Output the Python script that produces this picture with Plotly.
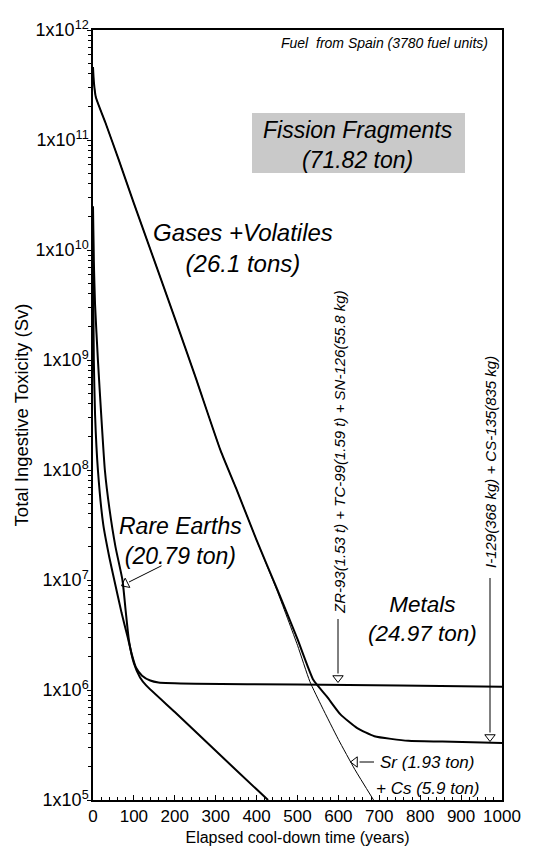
import plotly.graph_objects as go

# ---------------- data ----------------
years_gases = [0, 2, 7, 30, 63, 100, 150, 200, 250, 312, 350, 400, 450, 500, 539, 572, 605, 646, 688, 771, 854, 1000]
tox_gases = [4.6e11, 3.4e11, 2.45e11, 1.45e11, 6.6e10, 2.65e10, 8.0e9, 2.4e9, 7.1e8, 1.5e8, 6.8e7, 2.3e7,
             8.3e6, 2.9e6, 1.23e6, 8.7e5, 6.0e5, 4.5e5, 3.8e5, 3.45e5, 3.4e5, 3.3e5]

years_srcs = [0, 2, 7, 30, 63, 100, 150, 200, 250, 312, 350, 400, 450, 500, 530, 560, 600, 640, 686]
tox_srcs = [4.6e11, 3.4e11, 2.45e11, 1.45e11, 6.6e10, 2.65e10, 8.0e9, 2.4e9, 7.1e8, 1.5e8, 6.8e7, 2.3e7,
            8.0e6, 2.55e6, 1.2e6, 7.0e5, 3.55e5, 1.9e5, 1.0e5]

years_metals = [0, 1, 2, 5, 12, 25, 40, 52, 70, 85, 95, 105, 120, 140, 160, 250, 500, 750, 1000]
tox_metals = [1.6e10, 3.2e9, 1.0e9, 3.2e8, 1.0e8, 3.2e7, 1.6e7, 1.0e7, 5.0e6, 3.0e6, 2.1e6, 1.6e6,
              1.35e6, 1.22e6, 1.17e6, 1.14e6, 1.12e6, 1.1e6, 1.07e6]

years_rare = [0, 2, 5, 12, 20, 29, 40, 55, 72, 80, 88, 100, 115, 130, 200, 300, 400, 428]
tox_rare = [2.5e10, 8e9, 3.2e9, 1.0e9, 3.2e8, 1.0e8, 4.5e7, 2.0e7, 1.0e7, 5.2e6, 2.8e6, 1.75e6,
            1.3e6, 1.1e6, 6.3e5, 2.8e5, 1.25e5, 1.0e5]

y_tick_exponents = [5, 6, 7, 8, 9, 10, 11, 12]
x_tick_values = [0, 100, 200, 300, 400, 500, 600, 700, 800, 900, 1000]

# ---------------- layout helpers (page-pixel geometry of the frame) ----------------
PAGE_OFFSET = 8          # default body margin of the html page
W, H = 517, 838          # figure size (fits the 533x854 window with the body margin)
X0, X1 = 93, 502         # frame, in page pixels
Y0, Y1 = 30, 800


def px_x(px):
    return (px - X0) / (X1 - X0) * 1000


def px_ylog(py):
    return 12 - (py - Y0) / (Y1 - Y0) * 7


def pap_x(px):
    return (px - X0) / (X1 - X0)


def pap_y(py):
    return (Y1 - py) / (Y1 - Y0)


FONT = "Liberation Sans, Arial, Helvetica, sans-serif"

fig = go.Figure()

line_spec = dict(color="black", shape="spline", smoothing=0.5)
fig.add_trace(go.Scatter(x=years_srcs, y=tox_srcs, mode="lines", line=dict(width=1, **line_spec)))
fig.add_trace(go.Scatter(x=years_gases, y=tox_gases, mode="lines", line=dict(width=2, **line_spec)))
fig.add_trace(go.Scatter(x=years_metals, y=tox_metals, mode="lines", line=dict(width=2, **line_spec)))
fig.add_trace(go.Scatter(x=years_rare, y=tox_rare, mode="lines", line=dict(width=2, **line_spec)))

# open-triangle arrow heads (annotation decorations)
heads = [
    # (center px x, center px y, symbol, angle)
    (338, 678, "triangle-down-open", 0),
    (490, 737, "triangle-down-open", 0),
    (355, 762, "triangle-left-open", 0),
    (125.5, 583.8, "triangle-left-open", -26.6),
]
fig.add_trace(go.Scatter(
    x=[px_x(h[0]) for h in heads],
    y=[10 ** px_ylog(h[1]) for h in heads],
    mode="markers",
    marker=dict(symbol=[h[2] for h in heads], angle=[h[3] for h in heads], size=9,
                color="black", line=dict(width=1, color="black")),
    cliponaxis=False,
))

annotations = []


def text(px, py, s, size, angle=0):
    annotations.append(dict(
        x=pap_x(px), y=pap_y(py), xref="paper", yref="paper", text=s, showarrow=False,
        xanchor="center", yanchor="middle", textangle=angle,
        font=dict(family=FONT, size=size, color="black"),
    ))


def arrow(px, py, ax, ay):
    annotations.append(dict(
        x=px_x(px), y=px_ylog(py), xref="x", yref="y", ax=ax, ay=ay, text="",
        showarrow=True, arrowhead=0, arrowwidth=1, arrowcolor="black", standoff=0, startstandoff=0,
    ))


text(384, 43, "<i>Fuel  from Spain (3780 fuel units)</i>", 14)
text(358, 145, "<i>Fission Fragments<br>(71.82 ton)</i>", 23)
text(243, 248, "<i>Gases +Volatiles<br>(26.1 tons)</i>", 24)
text(180, 541, "<i>Rare Earths<br>(20.79 ton)</i>", 23)
text(422, 619, "<i>Metals<br>(24.97 ton)</i>", 22.5)
text(339, 452, "<i>ZR-93(1.53 t) + TC-99(1.59 t) + SN-126(55.8 kg)</i>", 15, -90)
text(490, 462, "<i>I-129(368 kg) + CS-135(835 kg)</i>", 15, -90)
text(427, 762, "<i>Sr (1.93 ton)</i>", 17)
text(427, 788, "<i>+ Cs (5.9 ton)</i>", 17)

arrow(338, 673.5, 0, -56)
arrow(490, 732.5, 0, -156)
arrow(359.5, 762, 16, 0)
arrow(129, 582, 34, -17)

fig.add_shape(type="rect", xref="paper", yref="paper",
              x0=pap_x(252), x1=pap_x(465), y0=pap_y(173), y1=pap_y(113),
              fillcolor="#c9c9c9", line=dict(width=0), layer="below")

fig.update_layout(
    width=W, height=H,
    margin=dict(l=X0 - PAGE_OFFSET, r=W + PAGE_OFFSET - X1, t=Y0 - PAGE_OFFSET, b=H + PAGE_OFFSET - Y1),
    paper_bgcolor="white", plot_bgcolor="white",
    showlegend=False,
    font=dict(family=FONT, color="black"),
    annotations=annotations,
)

fig.update_xaxes(
    automargin=False,
    range=[0, 1000], tickvals=x_tick_values, ticks="inside", ticklen=5, tickcolor="black",
    minor=dict(dtick=20, ticks="inside", ticklen=3, tickcolor="black", showgrid=False),
    showgrid=False, zeroline=False, showline=True, mirror=True, linecolor="black", linewidth=1.5,
    tickfont=dict(family=FONT, size=17),
    title=dict(text="Elapsed cool-down time (years)", font=dict(family=FONT, size=16), standoff=10),
)

fig.update_yaxes(
    automargin=False,
    type="log", range=[5, 12],
    tickvals=[10 ** e for e in y_tick_exponents],
    ticktext=["1x10<sup>%d</sup>" % e for e in y_tick_exponents],
    ticks="outside", ticklen=4, tickcolor="black",
    minor=dict(tickvals=[k * 10 ** e for e in range(5, 12) for k in range(2, 10)],
               ticks="outside", ticklen=3, tickcolor="black", showgrid=False),
    showgrid=False, zeroline=False, showline=True, mirror=True, linecolor="black", linewidth=1.5,
    tickfont=dict(family=FONT, size=18),
    ticklabelstandoff=-5,
    title=dict(text="Total Ingestive Toxicity (Sv)", font=dict(family=FONT, size=18.5), standoff=2),
)

fig.write_html("out.html")
